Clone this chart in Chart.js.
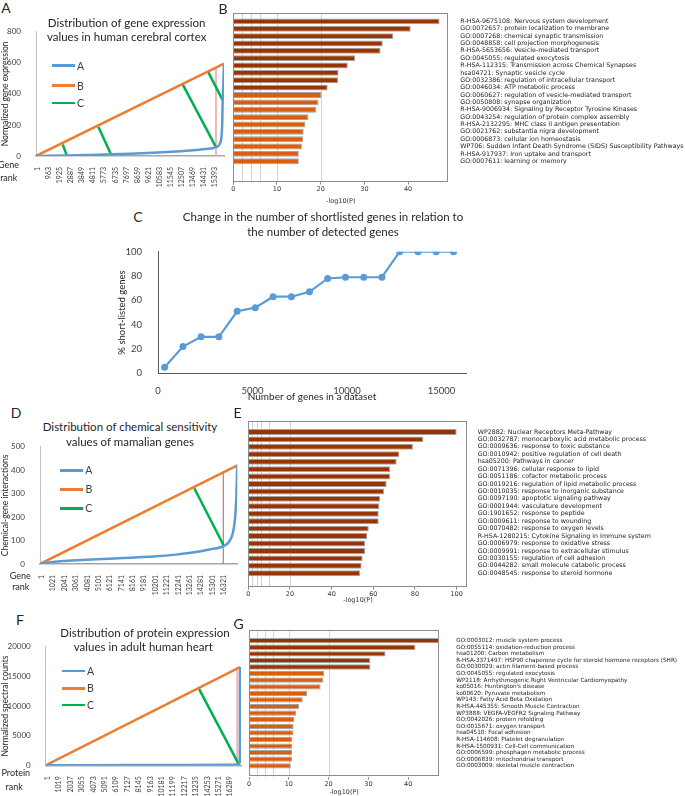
<!DOCTYPE html>
<html>
<head>
<meta charset="utf-8">
<script src="https://cdn.jsdelivr.net/npm/chart.js@4.4.0/dist/chart.umd.min.js"></script>
<style>
  body { margin: 0; background: #fff; }
  #fig { position: relative; width: 685px; height: 796px; overflow: hidden; font-family: Lato, sans-serif; color: #262626; }
  #fig canvas { position: absolute; }
  .t { position: absolute; white-space: nowrap; line-height: 1.2; transform: translate(-50%, -50%); }
  .leg { position: absolute; height: 2.5px; }
</style>
</head>
<body>
<div id="fig">
  <canvas id="chA" width="232" height="180" style="left:0;top:20px"></canvas>
  <canvas id="chB" width="457" height="200" style="left:228px;top:5px"></canvas>
  <canvas id="chC" width="357" height="165" style="left:116px;top:238px"></canvas>
  <canvas id="chD" width="242" height="165" style="left:0;top:435px"></canvas>
  <canvas id="chE" width="445" height="190" style="left:240px;top:414px"></canvas>
  <canvas id="chF" width="246" height="161" style="left:0;top:635px"></canvas>
  <canvas id="chG" width="445" height="178" style="left:240px;top:618px"></canvas>
</div>
<script>
// ---- A: gene expression in human cerebral cortex ----
const aRankTicks = [1, 963, 1925, 2887, 3849, 4811, 5773, 6735, 7697, 8659, 9621, 10583, 11545, 12507, 13469, 14431, 15393];
const aExprTicks = [0, 200, 400, 600, 800];
const aCurveX = [-150, 1000, 2500, 4000, 6400, 8000, 10000, 12000, 13500, 14500, 15474, 15800, 15950, 16020, 16056, 16120, 16165];
const aCurveY = [0, 1, 3, 6, 11, 15, 21, 29, 37, 45, 57, 78, 125, 220, 360, 480, 590];
const aLineX = [-150, 16170];
const aLineY = [0, 595];
const aGreenX = [[2168, 2515], [5258, 6360], [12584, 15474], [14780, 16056]];
const aGreenY = [[74, 6], [189, 11], [461, 57], [543, 360]];
const aCutX = 15474;
const aCutY = [0, 570];

// ---- B: enrichment for cerebral cortex genes ----
const bTerms = [
  'R-HSA-9675108: Nervous system development',
  'GO:0072657: protein localization to membrane',
  'GO:0007268: chemical synaptic transmission',
  'GO:0048858: cell projection morphogenesis',
  'R-HSA-5653656: Vesicle-mediated transport',
  'GO:0045055: regulated exocytosis',
  'R-HSA-112315: Transmission across Chemical Synapses',
  'hsa04721: Synaptic vesicle cycle',
  'GO:0032386: regulation of intracellular transport',
  'GO:0046034: ATP metabolic process',
  'GO:0060627: regulation of vesicle-mediated transport',
  'GO:0050808: synapse organization',
  'R-HSA-9006934: Signaling by Receptor Tyrosine Kinases',
  'GO:0043254: regulation of protein complex assembly',
  'R-HSA-2132295: MHC class II antigen presentation',
  'GO:0021762: substantia nigra development',
  'GO:0006873: cellular ion homeostasis',
  'WP706: Sudden Infant Death Syndrome (SIDS) Susceptibility Pathways',
  'R-HSA-917937: Iron uptake and transport',
  'GO:0007611: learning or memory'
];
const bLogP = [47.2, 40.6, 36.6, 34.2, 33.7, 27.9, 26.2, 24.1, 24.0, 21.6, 20.2, 19.5, 19.0, 17.2, 16.5, 16.1, 16.0, 15.7, 15.0, 15.0];
const bDarkCount = 10;
const bTicks = [0, 10, 20, 30, 40];

// ---- C: shortlisted genes vs detected genes ----
const cGenes = [350, 1320, 2280, 3220, 4190, 5150, 6090, 7060, 8020, 8980, 9920, 10890, 11850, 12790, 13760, 14720, 15640];
const cShortlisted = [5, 22, 30, 30, 51, 54, 63, 63, 67, 78, 79, 79, 79, 100, 100, 100, 100];
const cXTicks = [0, 5000, 10000, 15000];
const cYTicks = [0, 20, 40, 60, 80, 100];

// ---- D: chemical sensitivity of mammalian genes ----
const dRankTicks = [1, 1021, 2041, 3061, 4081, 5101, 6121, 7141, 8161, 9181, 10201, 11221, 12241, 13261, 14281, 15301, 16321];
const dInterTicks = [0, 100, 200, 300, 400, 500];
const dCurveX = [-150, 300, 1000, 2000, 4000, 6000, 8000, 10000, 12000, 13500, 15000, 16318, 16800, 17100, 17300, 17420, 17505];
const dCurveY = [0, 4, 9, 13, 18, 22, 27, 32, 40, 49, 62, 77, 97, 130, 190, 280, 420];
const dLineX = [-150, 17510];
const dLineY = [0, 421];
const dGreenX = [[13660, 16318]];
const dGreenY = [[323, 77]];
const dCutX = 16254;
const dCutY = [0, 390];

// ---- E: enrichment for chemical-sensitive genes ----
const eTerms = [
  'WP2882: Nuclear Receptors Meta-Pathway',
  'GO:0032787: monocarboxylic acid metabolic process',
  'GO:0009636: response to toxic substance',
  'GO:0010942: positive regulation of cell death',
  'hsa05200: Pathways in cancer',
  'GO:0071396: cellular response to lipid',
  'GO:0051186: cofactor metabolic process',
  'GO:0019216: regulation of lipid metabolic process',
  'GO:0010035: response to inorganic substance',
  'GO:0097190: apoptotic signaling pathway',
  'GO:0001944: vasculature development',
  'GO:1901652: response to peptide',
  'GO:0009611: response to wounding',
  'GO:0070482: response to oxygen levels',
  'R-HSA-1280215: Cytokine Signaling in Immune system',
  'GO:0006979: response to oxidative stress',
  'GO:0009991: response to extracellular stimulus',
  'GO:0030155: regulation of cell adhesion',
  'GO:0044282: small molecule catabolic process',
  'GO:0048545: response to steroid hormone'
];
const eLogP = [100, 84, 79, 72.5, 71.2, 68, 68, 66.4, 65.2, 63.2, 62.9, 62.6, 62.6, 57.8, 57.1, 56, 56, 54.9, 54.4, 53.6];
const eDarkCount = 20;
const eTicks = [0, 20, 40, 60, 80, 100];

// ---- F: protein expression in adult human heart ----
const fRankTicks = [1, 1019, 2037, 3055, 4073, 5091, 6109, 7127, 8145, 9163, 10181, 11199, 12217, 13235, 14253, 15271, 16289];
const fCountTicks = [0, 5000, 10000, 15000, 20000];
const fCurveX = [-180, 8000, 16500, 17100, 17160, 17171];
const fCurveY = [0, 30, 80, 200, 1500, 16570];
const fLineX = [-180, 17171];
const fLineY = [0, 16570];
const fGreenX = [[13510, 17020]];
const fGreenY = [[12890, 330]];
const fCutX = 16930;
const fCutY = [0, 16200];

// ---- G: enrichment for heart proteins ----
const gTerms = [
  'GO:0003012: muscle system process',
  'GO:0055114: oxidation-reduction process',
  'hsa01200: Carbon metabolism',
  'R-HSA-3371497: HSP90 chaperone cycle for steroid hormone receptors (SHR)',
  'GO:0030029: actin filament-based process',
  'GO:0045055: regulated exocytosis',
  'WP2118: Arrhythmogenic Right Ventricular Cardiomyopathy',
  "ko05016: Huntington's disease",
  'ko00620: Pyruvate metabolism',
  'WP143: Fatty Acid Beta Oxidation',
  'R-HSA-445355: Smooth Muscle Contraction',
  'WP3888: VEGFA-VEGFR2 Signaling Pathway',
  'GO:0042026: protein refolding',
  'GO:0015671: oxygen transport',
  'hsa04510: Focal adhesion',
  'R-HSA-114608: Platelet degranulation',
  'R-HSA-1500931: Cell-Cell communication',
  'GO:0006599: phosphagen metabolic process',
  'GO:0006839: mitochondrial transport',
  'GO:0003009: skeletal muscle contraction'
];
const gLogP = [47.7, 41.8, 34.3, 30.5, 30.5, 18.9, 18.7, 18.0, 14.6, 13.5, 12.6, 11.8, 11.4, 11.2, 11.2, 10.9, 10.9, 10.8, 10.8, 10.5];
const gDarkCount = 5;
const gTicks = [0, 10, 20, 30, 40];

const enrichGrid = [2, 4, 6, 10, 20];

Chart.defaults.font.family = 'Lato, sans-serif';
Chart.defaults.color = '#404040';

const fig = document.getElementById('fig');
function text(str, cx, cy, size, color) {
  const d = document.createElement('div');
  d.className = 't';
  d.style.left = cx + 'px';
  d.style.top = cy + 'px';
  d.style.fontSize = size + 'px';
  if (color) d.style.color = color;
  d.textContent = str;
  fig.appendChild(d);
}
function legend(x0, x1, ys) {
  const cols = ['#5b9bd5', '#ed7d31', '#00b050'];
  ['A', 'B', 'C'].forEach((name, i) => {
    const l = document.createElement('div');
    l.className = 'leg';
    l.style.left = x0 + 'px';
    l.style.top = (ys[i] - 1.25) + 'px';
    l.style.width = (x1 - x0) + 'px';
    l.style.background = cols[i];
    fig.appendChild(l);
    text(name, x1 + 5.5, ys[i], 10.5, '#404040');
  });
}

function xy(xs, ys) { return xs.map((x, i) => ({ x: x, y: ys[i] })); }
function lineSet(xs, ys, color, width, smooth) {
  return {
    data: xy(xs, ys), borderColor: color, borderWidth: width,
    pointRadius: 0, fill: false,
    cubicInterpolationMode: smooth ? 'monotone' : 'default'
  };
}

function distPanel(id, o) {
  const ds = [lineSet(o.curveX, o.curveY, '#5b9bd5', 2.5, true),
              lineSet(o.lineX, o.lineY, '#ed7d31', 2.5)];
  o.greenX.forEach((gx, i) => ds.push(lineSet(gx, o.greenY[i], '#00b050', 2.5)));
  ds.push(lineSet([o.cutX, o.cutX], o.cutY, o.cutColor, o.cutWidth));
  new Chart(document.getElementById(id), {
    type: 'line',
    data: { datasets: ds },
    options: {
      responsive: false, animation: false,
      layout: { padding: { top: o.padTop, right: o.padRight } },
      plugins: { legend: { display: false }, tooltip: { enabled: false } },
      scales: {
        x: {
          type: 'linear', min: o.xMin, max: o.xMax,
          afterBuildTicks: s => { s.ticks = o.rankTicks.map(v => ({ value: v })); },
          ticks: { callback: v => String(v), autoSkip: false, minRotation: 90, maxRotation: 90, padding: 3, font: { size: 7 } },
          grid: { display: false },
          border: { color: '#a6a6a6', width: 1.5 },
          afterFit: s => { s.height = o.xH; }
        },
        y: {
          min: 0, max: o.yMax,
          afterBuildTicks: s => { s.ticks = o.yTicks.map(v => ({ value: v })); },
          ticks: { callback: v => String(v), padding: 7, font: { size: 8 } },
          grid: { display: false },
          border: { color: '#bfbfbf' },
          title: { display: true, text: o.yTitle, padding: 0, font: { size: 8.5 }, color: '#262626' },
          afterFit: s => { s.width = o.yW; }
        }
      }
    }
  });
}

const frameGrid = {
  id: 'frameGrid',
  beforeDatasetsDraw(chart) {
    const { ctx, chartArea: a, scales: { x } } = chart;
    ctx.save();
    ctx.strokeStyle = '#d2d2d2';
    ctx.lineWidth = 1;
    enrichGrid.forEach(v => {
      const px = Math.round(x.getPixelForValue(v)) + 0.5;
      ctx.beginPath(); ctx.moveTo(px, a.top); ctx.lineTo(px, a.bottom); ctx.stroke();
    });
    ctx.restore();
  },
  afterDatasetsDraw(chart) {
    const { ctx, chartArea: a } = chart;
    ctx.save();
    ctx.strokeStyle = '#8c8c8c';
    ctx.lineWidth = 1;
    ctx.strokeRect(Math.round(a.left) + 0.5, Math.round(a.top) + 0.5, Math.round(a.width) - 1, Math.round(a.height) - 1);
    ctx.restore();
  }
};

function enrichPanel(id, terms, vals, nDark, ticks, o) {
  new Chart(document.getElementById(id), {
    type: 'bar',
    data: {
      datasets: [{
        data: vals.map((v, i) => ({ x: v, y: i })),
        backgroundColor: vals.map((v, i) => i < nDark ? '#993404' : '#d95f0e'),
        borderColor: '#a3a3a3', borderWidth: 1,
        barPercentage: 0.8, categoryPercentage: 1
      }]
    },
    options: {
      indexAxis: 'y', responsive: false, animation: false,
      layout: { padding: { left: o.padL, top: o.padT } },
      plugins: { legend: { display: false }, tooltip: { enabled: false } },
      scales: {
        x: {
          type: 'linear', min: 0, max: o.xMax,
          afterBuildTicks: s => { s.ticks = ticks.map(v => ({ value: v })); },
          ticks: { padding: 1, font: { family: 'DejaVu Sans', size: 6.5 }, color: '#333' },
          grid: { display: true, drawOnChartArea: false, tickLength: 3, color: '#8c8c8c' },
          border: { display: false },
          title: { display: true, text: '-log10(P)', padding: { top: 1, bottom: 0 }, font: { family: 'DejaVu Sans', size: 6.5 }, color: '#333' },
          afterFit: s => { s.height = o.xH; }
        },
        y: {
          type: 'linear', position: 'right', reverse: true, min: o.yMin, max: o.yMax,
          afterBuildTicks: s => { s.ticks = terms.map((t, i) => ({ value: i })); },
          ticks: { callback: v => terms[v], autoSkip: false, padding: o.labPad, font: { family: 'DejaVu Sans', size: o.labSize }, color: '#222' },
          grid: { display: false },
          border: { display: false },
          afterFit: s => { s.width = o.yW; }
        }
      }
    },
    plugins: [frameGrid]
  });
}

// A
distPanel('chA', {
  curveX: aCurveX, curveY: aCurveY, lineX: aLineX, lineY: aLineY,
  greenX: aGreenX, greenY: aGreenY, cutX: aCutX, cutY: aCutY,
  cutColor: '#f0a0a0', cutWidth: 1.5,
  rankTicks: aRankTicks, yTicks: aExprTicks, xMin: -150, xMax: 16170, yMax: 800,
  yTitle: 'Normalized gene expression', padTop: 9.3, padRight: 8, xH: 44, yW: 36
});
// D
distPanel('chD', {
  curveX: dCurveX, curveY: dCurveY, lineX: dLineX, lineY: dLineY,
  greenX: dGreenX, greenY: dGreenY, cutX: dCutX, cutY: dCutY,
  cutColor: '#d9534f', cutWidth: 1,
  rankTicks: dRankTicks, yTicks: dInterTicks, xMin: -150, xMax: 17510, yMax: 500,
  yTitle: 'Chemical-gene interactions', padTop: 9.3, padRight: 4.7, xH: 36, yW: 40
});
// F
distPanel('chF', {
  curveX: fCurveX, curveY: fCurveY, lineX: fLineX, lineY: fLineY,
  greenX: fGreenX, greenY: fGreenY, cutX: fCutX, cutY: fCutY,
  cutColor: '#f7b0b0', cutWidth: 2,
  rankTicks: fRankTicks, yTicks: fCountTicks, xMin: -180, xMax: 17260, yMax: 20000,
  yTitle: 'Normalized spectral counts', padTop: 9.3, padRight: 5, xH: 30.7, yW: 45.7
});

// B, E, G
enrichPanel('chB', bTerms, bLogP, bDarkCount, bTicks,
  { xMax: 49.2, yMin: -0.59, yMax: 21.2, padL: 5.3, padT: 6.7, yW: 236.7, xH: 23.3, labPad: 4, labSize: 6.3 });
enrichPanel('chE', eTerms, eLogP, eDarkCount, eTicks,
  { xMax: 105.3, yMin: -0.95, yMax: 20.25, padL: 8.3, padT: 6.7, yW: 217.3, xH: 17.3, labPad: 2, labSize: 6.3 });
enrichPanel('chG', gTerms, gLogP, gDarkCount, gTicks,
  { xMax: 47.8, yMin: -1.0, yMax: 20.1, padL: 9, padT: 7.7, yW: 245.7, xH: 19.3, labPad: 9, labSize: 5.7 });

// C
new Chart(document.getElementById('chC'), {
  type: 'line',
  data: {
    datasets: [{
      data: xy(cGenes, cShortlisted), borderColor: '#5b9bd5', backgroundColor: '#5b9bd5',
      borderWidth: 2.2, pointRadius: 3.5, pointBorderWidth: 0, fill: false
    }]
  },
  options: {
    responsive: false, animation: false,
    layout: { padding: { top: 8.7, right: 7 } },
    plugins: { legend: { display: false }, tooltip: { enabled: false } },
    scales: {
      x: {
        type: 'linear', min: 0, max: 16300,
        afterBuildTicks: s => { s.ticks = cXTicks.map(v => ({ value: v })); },
        ticks: { callback: v => String(v), padding: 4, font: { size: 9.5 } },
        grid: { display: false },
        border: { color: '#595959' },
        title: { display: true, text: 'Number of genes in a dataset', padding: { top: 0, bottom: 0 }, font: { size: 10 }, color: '#262626' },
        afterFit: s => { s.height = 29.7; }
      },
      y: {
        min: 0, max: 100,
        afterBuildTicks: s => { s.ticks = cYTicks.map(v => ({ value: v })); },
        ticks: { padding: 8, font: { size: 9.5 } },
        grid: { display: false },
        border: { color: '#595959' },
        title: { display: true, text: '% short-listed genes', padding: 0, font: { size: 9.5 }, color: '#262626' },
        afterFit: s => { s.width = 42; }
      }
    }
  }
});

// panel letters, titles, rank captions, legends
text('A', 6, 8, 14); text('B', 223, 8.5, 14); text('C', 138, 216.7, 14);
text('D', 16, 412.5, 14); text('E', 237.5, 412.5, 14); text('F', 20, 620, 14); text('G', 238.5, 623.5, 14);

text('Distribution of gene expression', 126.7, 22.7, 11.5);
text('values in human cerebral cortex', 126.7, 36.7, 11.5);
text('Distribution of chemical sensitivity', 130, 427.3, 11.5);
text('values of mamalian genes', 130, 442.3, 11.5);
text('Distribution of protein expression', 145, 632.7, 11.5);
text('values in adult human heart', 143.3, 647.3, 11.5);
text('Change in the number of shortlisted genes in relation to', 323, 216.7, 11.5);
text('the number of detected genes', 323, 231.7, 11.5);

text('Gene', 8.5, 165, 9); text('rank', 8.8, 178.3, 9);
text('Gene', 20.3, 576, 9); text('rank', 20.8, 586.7, 9);
text('Protein', 15.8, 773.3, 9); text('rank', 14.2, 786.7, 9);

legend(52, 75, [65.7, 85.7, 103]);
legend(60, 83.3, [470.3, 489.3, 508.3]);
legend(61.7, 85, [671, 688.3, 705]);
</script>
</body>
</html>
